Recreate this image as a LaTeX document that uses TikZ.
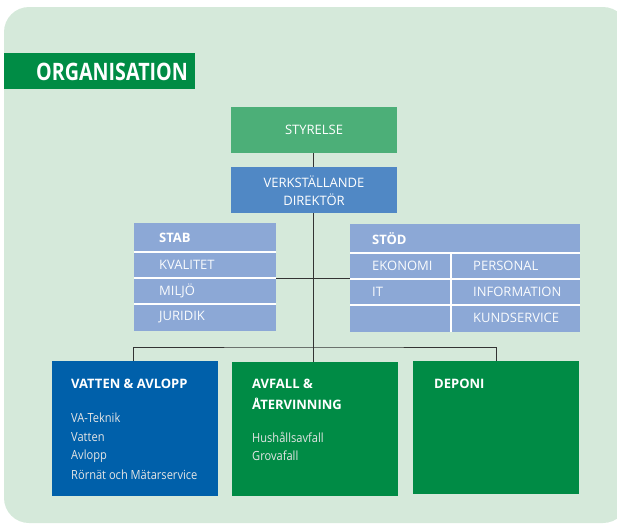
\documentclass[tikz,border=0pt]{standalone}
\usepackage{fontspec}
\setmainfont{Open Sans}
\newfontfamily\titlefont[FakeStretch=0.82]{Open Sans}
\newfontfamily\bodyfont[FakeStretch=0.88]{Open Sans}
\usetikzlibrary{positioning}
\definecolor{bg}{HTML}{D5E9DA}
\definecolor{titlegreen}{HTML}{008C45}
\definecolor{styrgreen}{HTML}{4CAF78}
\definecolor{vdblue}{HTML}{5088C5}
\definecolor{lightblue}{HTML}{8CA8D6}
\definecolor{darkblue}{HTML}{0060AA}
\definecolor{unitgreen}{HTML}{008B45}
\tikzset{
  box/.style={rectangle, inner sep=0pt, outer sep=0pt, anchor=north west},
  conn/.style={draw=black!80, line width=0.9pt},
  sep/.style={draw=white, line width=2pt},
  lbl/.style={anchor=west, inner sep=0pt, text=white!95!lightblue, font=\fontsize{13}{15}\selectfont},
  hdr/.style={anchor=west, inner sep=0pt, text=white, font=\fontsize{13}{15}\selectfont\bfseries},
  unittxt/.style={anchor=west, inner sep=0pt, text=white!90!black, font=\bodyfont\fontsize{12.6}{14}\selectfont},
}
\begin{document}
\begin{tikzpicture}[x=1pt,y=-1pt]
\useasboundingbox (0,0) rectangle (617,525);
\begin{scope}
\clip (0,0) rectangle (617,525);
\fill[bg, rounded corners=25pt] (4,7) rectangle (628,523);
\end{scope}
% title
\node[box, fill=titlegreen, minimum width=191pt, minimum height=36pt] (title) at (4,53) {};
\node[anchor=west, inner sep=0pt, text=white, font=\titlefont\fontsize{24}{26}\selectfont\bfseries] (titletxt) at (36,71.5) {ORGANISATION};
% top boxes
\node[box, fill=styrgreen, minimum width=166pt, minimum height=46pt] (styr) at (231,107) {};
\node[text=white, inner sep=0pt, font=\fontsize{13}{15}\selectfont] (styrtxt) at (314,130) {STYRELSE};
\node[box, fill=vdblue, minimum width=166pt, minimum height=46pt] (vd) at (231,167) {};
\node[text=white, inner sep=0pt, align=center, font=\fontsize{13}{18}\selectfont] (vdtxt) at (314,191) {VERKSTÄLLANDE\\DIREKTÖR};
% STAB
\node[box, fill=lightblue, minimum width=142pt, minimum height=108pt] (stab) at (134,223) {};
\draw[sep] (134,252) -- (276,252);
\draw[sep] (134,278) -- (276,278);
\draw[sep] (134,304) -- (276,304);
\node[hdr] (stabh) at (159,238) {STAB};
\node[lbl] (kval) at (159,265) {KVALITET};
\node[lbl] (milj) at (159,291) {MILJÖ};
\node[lbl] (jur) at (159,317) {JURIDIK};
% STÖD
\node[box, fill=lightblue, minimum width=230pt, minimum height=108pt] (stod) at (350,224) {};
\draw[sep] (350,253) -- (580,253);
\draw[sep] (350,279) -- (580,279);
\draw[sep] (350,305) -- (580,305);
\draw[sep] (451,253) -- (451,332);
\node[hdr] (stodh) at (372,239) {STÖD};
\node[lbl] (ekon) at (372,266) {EKONOMI};
\node[lbl] (it) at (372,292) {IT};
\node[lbl] (pers) at (473,266) {PERSONAL};
\node[lbl] (info) at (473,292) {INFORMATION};
\node[lbl] (kund) at (473,318) {KUNDSERVICE};
% units
\node[box, fill=darkblue, minimum width=166pt, minimum height=135pt] (va) at (52,361) {};
\node[box, fill=unitgreen, minimum width=166pt, minimum height=134pt] (avf) at (232,362) {};
\node[box, fill=unitgreen, minimum width=166pt, minimum height=133pt] (dep) at (413,361) {};
\node[hdr] (vah) at (71,384) {VATTEN \& AVLOPP};
\node[unittxt] (va1) at (71,418) {VA-Teknik};
\node[unittxt] (va2) at (71,437) {Vatten};
\node[unittxt] (va3) at (71,456) {Avlopp};
\node[unittxt] (va4) at (71,475) {Rörnät och Mätarservice};
\node[hdr] (avfh1) at (252,384) {AVFALL \&};
\node[hdr] (avfh2) at (252,404) {ÅTERVINNING};
\node[unittxt] (avf1) at (252,437) {Hushållsavfall};
\node[unittxt] (avf2) at (252,456) {Grovafall};
\node[hdr] (deph) at (434,384) {DEPONI};
% connectors
\coordinate (bar) at (313,347);
\coordinate (cross) at (313,278);
\draw[conn] (styr.south -| bar) -- (vd.north -| bar);
\draw[conn] (vd.south -| bar) -- (bar);
\draw[conn] (bar) -- (avf.north -| bar);
\draw[conn] (stab.east |- cross) -- (stod.west |- cross);
\draw[conn] ([xshift=-2pt]va.north) |- (bar) -| (dep.north);
\end{tikzpicture}
\end{document}
